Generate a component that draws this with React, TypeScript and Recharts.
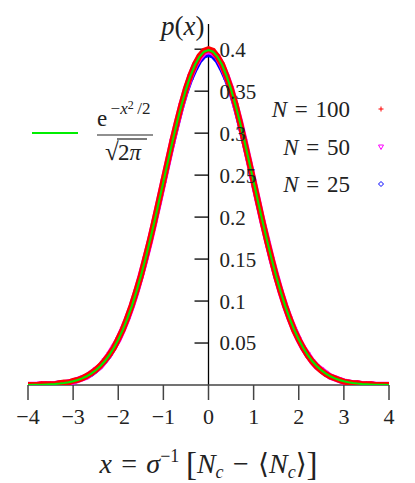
import React from 'react';
import {
  ComposedChart, Scatter, XAxis, YAxis, ReferenceLine, Legend,
} from 'recharts';

const X_VALUES = [
  -4.0, -3.9, -3.8, -3.7, -3.6, -3.5, -3.4, -3.3, -3.2, -3.1,
  -3.0, -2.9, -2.8, -2.7, -2.6, -2.5, -2.4, -2.3, -2.2, -2.1,
  -2.0, -1.9, -1.8, -1.7, -1.6, -1.5, -1.4, -1.3, -1.2, -1.1,
  -1.0, -0.9, -0.8, -0.7, -0.6, -0.5, -0.4, -0.3, -0.2, -0.1,
  0.0,
  0.1, 0.2, 0.3, 0.4, 0.5, 0.6, 0.7, 0.8, 0.9, 1.0,
  1.1, 1.2, 1.3, 1.4, 1.5, 1.6, 1.7, 1.8, 1.9, 2.0,
  2.1, 2.2, 2.3, 2.4, 2.5, 2.6, 2.7, 2.8, 2.9, 3.0,
  3.1, 3.2, 3.3, 3.4, 3.5, 3.6, 3.7, 3.8, 3.9, 4.0,
];

const GAUSS_Y = [
  0.0001, 0.0002, 0.0003, 0.0004, 0.0006, 0.0009, 0.0012, 0.0017, 0.0024, 0.0033,
  0.0044, 0.0060, 0.0079, 0.0104, 0.0136, 0.0175, 0.0224, 0.0283, 0.0355, 0.0440,
  0.0540, 0.0656, 0.0790, 0.0940, 0.1109, 0.1295, 0.1497, 0.1714, 0.1942, 0.2179,
  0.2420, 0.2661, 0.2897, 0.3123, 0.3332, 0.3521, 0.3683, 0.3814, 0.3910, 0.3970,
  0.3989,
  0.3970, 0.3910, 0.3814, 0.3683, 0.3521, 0.3332, 0.3123, 0.2897, 0.2661, 0.2420,
  0.2179, 0.1942, 0.1714, 0.1497, 0.1295, 0.1109, 0.0940, 0.0790, 0.0656, 0.0540,
  0.0440, 0.0355, 0.0283, 0.0224, 0.0175, 0.0136, 0.0104, 0.0079, 0.0060, 0.0044,
  0.0033, 0.0024, 0.0017, 0.0012, 0.0009, 0.0006, 0.0004, 0.0003, 0.0002, 0.0001,
];

const N100_Y = [
  0.000, 0.000, 0.000, 0.001, 0.001, 0.001, 0.001, 0.002, 0.003, 0.003,
  0.005, 0.006, 0.008, 0.011, 0.014, 0.018, 0.023, 0.029, 0.036, 0.044,
  0.055, 0.066, 0.080, 0.095, 0.112, 0.130, 0.151, 0.172, 0.195, 0.219,
  0.243, 0.267, 0.291, 0.313, 0.334, 0.353, 0.369, 0.382, 0.392, 0.398,
  0.400,
  0.398, 0.391, 0.382, 0.368, 0.352, 0.334, 0.312, 0.289, 0.266, 0.242,
  0.218, 0.194, 0.171, 0.150, 0.129, 0.111, 0.094, 0.079, 0.065, 0.054,
  0.044, 0.035, 0.028, 0.022, 0.017, 0.013, 0.010, 0.008, 0.006, 0.004,
  0.003, 0.002, 0.002, 0.001, 0.001, 0.001, 0.000, 0.000, 0.000, 0.000,
];

const N50_Y = [
  0.000, 0.000, 0.000, 0.001, 0.001, 0.001, 0.001, 0.002, 0.002, 0.003,
  0.004, 0.006, 0.008, 0.010, 0.014, 0.018, 0.022, 0.029, 0.036, 0.045,
  0.054, 0.066, 0.079, 0.094, 0.111, 0.130, 0.150, 0.171, 0.194, 0.218,
  0.242, 0.266, 0.290, 0.312, 0.333, 0.352, 0.368, 0.381, 0.390, 0.396,
  0.398,
  0.396, 0.391, 0.381, 0.368, 0.353, 0.333, 0.313, 0.290, 0.266, 0.242,
  0.218, 0.194, 0.172, 0.150, 0.130, 0.111, 0.094, 0.079, 0.066, 0.054,
  0.044, 0.036, 0.028, 0.022, 0.018, 0.014, 0.010, 0.008, 0.006, 0.004,
  0.003, 0.002, 0.002, 0.001, 0.001, 0.001, 0.000, 0.000, 0.000, 0.000,
];

const N25_Y = [
  0.000, 0.000, 0.000, 0.000, 0.001, 0.001, 0.001, 0.002, 0.002, 0.003,
  0.004, 0.006, 0.008, 0.010, 0.013, 0.017, 0.022, 0.028, 0.035, 0.044,
  0.054, 0.066, 0.079, 0.094, 0.111, 0.129, 0.149, 0.171, 0.194, 0.217,
  0.241, 0.265, 0.288, 0.310, 0.331, 0.349, 0.364, 0.376, 0.386, 0.392,
  0.394,
  0.392, 0.386, 0.376, 0.364, 0.349, 0.331, 0.310, 0.288, 0.265, 0.241,
  0.217, 0.194, 0.171, 0.149, 0.129, 0.111, 0.094, 0.079, 0.066, 0.054,
  0.044, 0.035, 0.028, 0.022, 0.017, 0.013, 0.010, 0.008, 0.006, 0.004,
  0.003, 0.002, 0.002, 0.001, 0.001, 0.001, 0.000, 0.000, 0.000, 0.000,
];

const X_TICKS = [-4, -3, -2, -1, 0, 1, 2, 3, 4];
const Y_TICKS = [0.05, 0.1, 0.15, 0.2, 0.25, 0.3, 0.35, 0.4];
const Y_TICK_LABELS = ['0.05', '0.1', '0.15', '0.2', '0.25', '0.3', '0.35', '0.4'];
const SERIES_NAMES = ['N = 100', 'N = 50', 'N = 25'];

const gaussData = X_VALUES.map((x, i) => ({ x, y: GAUSS_Y[i] }));
const n100Data = X_VALUES.map((x, i) => ({ x, y: N100_Y[i] }));
const n50Data = X_VALUES.map((x, i) => ({ x, y: N50_Y[i] }));
const n25Data = X_VALUES.map((x, i) => ({ x, y: N25_Y[i] }));

const FONT = "Liberation Serif, DejaVu Serif, serif";
const RED = '#ff0000';
const MAGENTA = '#ff00ff';
const BLUE = '#0000ff';
const GREEN = '#00ee00';
const INK = '#222';
const SP = '\u2004';

const PlusShape = (p: any) => {
  const { cx, cy } = p;
  if (cx == null || cy == null) return null;
  return <path d={`M${cx - 2.5},${cy}h5M${cx},${cy - 2.5}v5`} stroke={RED} strokeWidth={1} fill="none" />;
};
const TriShape = (p: any) => {
  const { cx, cy } = p;
  if (cx == null || cy == null) return null;
  return <polygon points={`${cx - 2.5},${cy - 2} ${cx + 2.5},${cy - 2} ${cx},${cy + 2.5}`} stroke={MAGENTA} strokeWidth={1} fill="none" />;
};
const DiamondShape = (p: any) => {
  const { cx, cy } = p;
  if (cx == null || cy == null) return null;
  return <polygon points={`${cx},${cy - 2.5} ${cx + 2.5},${cy} ${cx},${cy + 2.5} ${cx - 2.5},${cy}`} stroke={BLUE} strokeWidth={1} fill="none" />;
};
const NoShape = () => <g />;

const fmtX = (v: number) => (v < 0 ? `\u2212${Math.abs(v)}` : `${v}`);

const XLabel = (props: any) => {
  const vb = props.viewBox || {};
  const cx = vb.x + vb.width / 2;
  const y = 473;
  return (
    <text x={cx} y={y} textAnchor="middle" fontFamily={FONT} fontSize={28} fill={INK}>
      <tspan fontStyle="italic">x</tspan>
      <tspan>{`${SP}=${SP}`}</tspan>
      <tspan fontStyle="italic">σ</tspan>
      <tspan dy={-11} fontSize={18}>−1</tspan>
      <tspan dy={13} fontSize={33}>{`\u2009[`}</tspan>
      <tspan dy={-2} fontStyle="italic">N</tspan>
      <tspan dy={5} fontSize={18} fontStyle="italic">c</tspan>
      <tspan dy={-5}>{`${SP}−${SP}⟨`}</tspan>
      <tspan fontStyle="italic">N</tspan>
      <tspan dy={5} fontSize={18} fontStyle="italic">c</tspan>
      <tspan dy={-5}>⟩</tspan>
      <tspan dy={2} fontSize={33}>]</tspan>
    </text>
  );
};

const PLabel = (props: any) => {
  const vb = props.viewBox || {};
  return (
    <text x={vb.x - 4} y={vb.y + 11} textAnchor="end" fontFamily={FONT} fontSize={27} fill={INK}>
      <tspan fontStyle="italic">p</tspan>
      <tspan>(</tspan>
      <tspan fontStyle="italic">x</tspan>
      <tspan>)</tspan>
    </text>
  );
};

const LegendContent = () => {
  const markers = [PlusShape, TriShape, DiamondShape];
  const rowsY = [109, 147, 184];
  return (
    <svg width={415} height={483} style={{ position: 'absolute', left: 0, top: 0, overflow: 'visible' }}>
      <line x1={32} x2={78} y1={133} y2={133} stroke={GREEN} strokeWidth={2} />
      <text x={97} y={126} fontFamily={FONT} fontSize={23} fill={INK}>
        <tspan>e</tspan>
        <tspan dy={-12} fontSize={17}>{`\u2009−`}</tspan>
        <tspan fontSize={17} fontStyle="italic">x</tspan>
        <tspan dy={-5} fontSize={12}>2</tspan>
        <tspan dy={5} fontSize={17}>{`\u2009/2`}</tspan>
      </text>
      <line x1={97} x2={153} y1={135} y2={135} stroke={INK} strokeWidth={1.2} />
      <text x={105} y={160} fontFamily={FONT} fontSize={25} fill={INK}>√</text>
      <line x1={117} x2={147} y1={139} y2={139} stroke={INK} strokeWidth={1.2} />
      <text x={118} y={160} fontFamily={FONT} fontSize={23} fill={INK}>
        <tspan>2</tspan>
        <tspan fontStyle="italic">π</tspan>
      </text>
      {SERIES_NAMES.map((name, i) => {
        const M = markers[i];
        const parts = name.split(' = ');
        return (
          <g key={name}>
            <text x={350} y={rowsY[i] + 8} textAnchor="end" fontFamily={FONT} fontSize={23} fill={INK}>
              <tspan fontStyle="italic">{parts[0]}</tspan>
              <tspan>{`${SP}=${SP}`}</tspan>
              <tspan>{parts[1]}</tspan>
            </text>
            <M cx={381} cy={rowsY[i]} />
          </g>
        );
      })}
    </svg>
  );
};

export default function App() {
  return (
    <div style={{ position: 'absolute', left: 0, top: 0, width: 415, height: 483, background: '#fff' }}>
      <ComposedChart width={415} height={483} margin={{ top: 24, right: 26, bottom: 0, left: 28 }}>
        <XAxis
          type="number"
          dataKey="x"
          domain={[-4, 4]}
          ticks={X_TICKS}
          allowDataOverflow
          tickFormatter={fmtX}
          height={98}
          tickSize={15}
          tickMargin={8}
          axisLine={{ stroke: '#444', strokeWidth: 1.5 }}
          tickLine={{ stroke: '#444', strokeWidth: 1.5 }}
          tick={{ fill: INK, fontSize: 22, fontFamily: FONT }}
          label={<XLabel />}
        />
        <YAxis type="number" dataKey="y" domain={[0, 0.43]} allowDataOverflow hide width={0} />
        <ReferenceLine x={0} stroke="#000" strokeWidth={1.3} label={<PLabel />} />
        {Y_TICKS.map((v, i) => (
          <ReferenceLine
            key={v}
            segment={[{ x: -0.31, y: v }, { x: 0, y: v }]}
            stroke="#000"
            strokeWidth={1.3}
            label={{ value: Y_TICK_LABELS[i], position: 'right', offset: 11, fontSize: 21, fontFamily: FONT, fill: INK }}
          />
        ))}
        <Scatter name="N = 25" data={n25Data} shape={DiamondShape} line={{ stroke: BLUE, strokeWidth: 5.5 }} isAnimationActive={false} />
        <Scatter name="N = 50" data={n50Data} shape={TriShape} line={{ stroke: MAGENTA, strokeWidth: 6.5 }} isAnimationActive={false} />
        <Scatter name="N = 100" data={n100Data} shape={PlusShape} line={{ stroke: RED, strokeWidth: 6 }} isAnimationActive={false} />
        <Scatter name="gauss" data={gaussData} shape={NoShape} line={{ stroke: GREEN, strokeWidth: 2 }} isAnimationActive={false} />
        <Legend
          layout="vertical"
          align="center"
          verticalAlign="middle"
          content={<LegendContent />}
          wrapperStyle={{ position: 'absolute', left: 0, top: 0, width: 415, height: 483, pointerEvents: 'none' }}
        />
      </ComposedChart>
    </div>
  );
}
